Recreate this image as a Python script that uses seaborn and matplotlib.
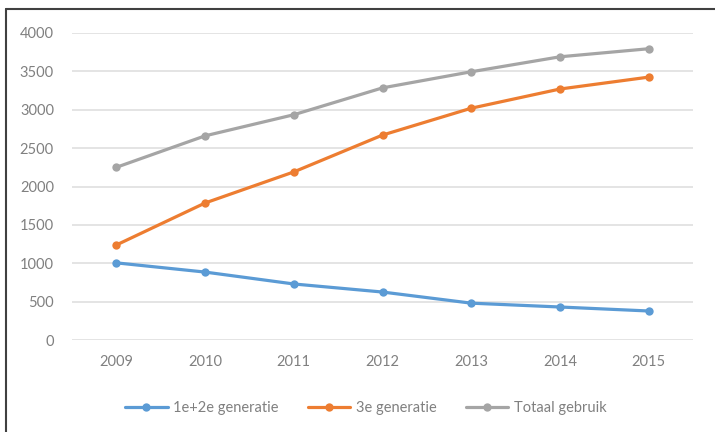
import pandas as pd
import matplotlib.pyplot as plt
import seaborn as sns
from matplotlib.lines import Line2D

# Data
jaren = ["2009", "2010", "2011", "2012", "2013", "2014", "2015"]
gen_1e2e = [1005, 885, 730, 625, 480, 430, 378]
gen_3e = [1238, 1785, 2190, 2670, 3020, 3270, 3425]
totaal = [2250, 2660, 2935, 3285, 3495, 3690, 3795]

reeksen = ["1e+2e generatie", "3e generatie", "Totaal gebruik"]
kleuren = ["#5B9BD5", "#ED7D31", "#A5A5A5"]

df = pd.DataFrame({
    "jaar": jaren * 3,
    "waarde": gen_1e2e + gen_3e + totaal,
    "reeks": [reeksen[0]] * 7 + [reeksen[1]] * 7 + [reeksen[2]] * 7,
})

sns.set_style("white")
plt.rcParams["font.family"] = ["Lato", "DejaVu Sans"]

fig = plt.figure(figsize=(7.15, 4.32), dpi=100)
ax = fig.add_axes([72 / 715, 1 - 340 / 432, (693 - 72) / 715, (340 - 33) / 432])

sns.lineplot(
    data=df, x="jaar", y="waarde", hue="reeks", hue_order=reeksen,
    palette=kleuren, marker="o", markersize=6, markeredgewidth=0,
    linewidth=2.3, ax=ax, legend=False,
)
for ln in ax.lines:
    ln.set_clip_on(False)

ax.set_xlim(-0.5, 6.5)
ax.set_ylim(0, 4000)
ax.set_yticks(range(0, 4001, 500))
ax.set_xlabel("")
ax.set_ylabel("")
ax.grid(axis="y", color="#e2e2e2", linewidth=1.3)
ax.set_axisbelow(True)
for s in ax.spines.values():
    s.set_visible(False)
ax.tick_params(axis="y", length=0, pad=13, labelsize=10.5, labelcolor="#808080")
ax.tick_params(axis="x", length=0, pad=11, labelsize=10.5, labelcolor="#808080")

handles = [
    Line2D([], [], color=c, linewidth=2.3, marker="o", markersize=6, markeredgewidth=0)
    for c in kleuren
]
fig.legend(
    handles, reeksen, loc="center", bbox_to_anchor=(366 / 715, 1 - 408 / 432),
    ncol=3, frameon=False, fontsize=10.5, labelcolor="#808080",
    handlelength=2.9, handletextpad=0.4, columnspacing=2.0,
)

# figure frame (top and left edges only, as in the reference)
fig.add_artist(Line2D([6 / 715, 1], [1 - 9 / 432] * 2, color="#404040", linewidth=1.5,
                      transform=fig.transFigure))
fig.add_artist(Line2D([6 / 715] * 2, [0, 1 - 9 / 432], color="#404040", linewidth=1.5,
                      transform=fig.transFigure))

fig.savefig("out.png", dpi=100)
